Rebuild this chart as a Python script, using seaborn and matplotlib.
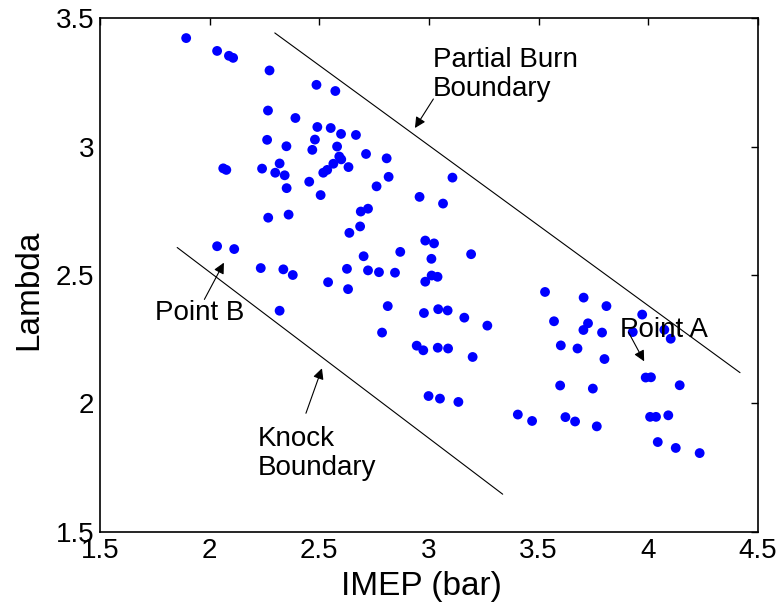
import numpy as np
import pandas as pd
import matplotlib
matplotlib.use("Agg")
import matplotlib.pyplot as plt
import seaborn as sns

# ---- data ----
imep = [1.893, 2.034, 2.088, 2.107, 2.273, 2.487, 2.266, 2.391, 2.491, 2.552,
        2.262, 2.480, 2.350, 2.468, 2.062, 2.076, 2.239, 2.319, 2.299, 2.342,
        2.454, 2.518, 2.536, 2.351, 2.573, 2.599, 2.667, 2.581, 2.591, 2.600,
        2.713, 2.807, 2.564, 2.633, 2.816, 2.761, 3.107, 2.506, 2.267, 2.360,
        2.034, 2.112, 2.233, 2.336, 2.379, 2.540, 2.319, 2.957, 3.064, 2.689,
        2.722, 2.686, 2.637, 2.983, 3.023, 2.869, 3.192, 2.702, 3.011, 2.626,
        2.722, 2.772, 2.845, 2.631, 3.012, 3.039, 2.983, 2.812, 2.977, 3.042,
        3.085, 3.161, 3.266, 2.786, 2.944, 2.974, 3.040, 3.087, 3.199, 2.998,
        3.050, 3.134, 3.529, 3.705, 3.809, 3.972, 3.570, 3.725, 3.704, 3.789,
        3.929, 4.073, 4.102, 3.601, 3.677, 3.800, 3.988, 4.012, 3.598, 3.747,
        4.143, 3.405, 3.470, 3.622, 3.666, 3.765, 4.008, 4.035, 4.091, 4.043,
        4.125, 4.234]
lam = [3.422, 3.372, 3.353, 3.345, 3.296, 3.240, 3.140, 3.111, 3.076, 3.072,
       3.026, 3.027, 3.001, 2.987, 2.915, 2.909, 2.914, 2.934, 2.898, 2.888,
       2.863, 2.898, 2.909, 2.838, 3.216, 3.049, 3.045, 3.000, 2.961, 2.950,
       2.971, 2.954, 2.933, 2.920, 2.882, 2.845, 2.879, 2.811, 2.723, 2.735,
       2.612, 2.601, 2.527, 2.522, 2.500, 2.472, 2.361, 2.804, 2.778, 2.747,
       2.758, 2.689, 2.664, 2.634, 2.623, 2.590, 2.581, 2.573, 2.563, 2.524,
       2.518, 2.511, 2.509, 2.445, 2.498, 2.493, 2.474, 2.379, 2.352, 2.367,
       2.362, 2.334, 2.303, 2.276, 2.225, 2.207, 2.217, 2.214, 2.181, 2.029,
       2.019, 2.006, 2.434, 2.412, 2.379, 2.346, 2.320, 2.312, 2.286, 2.276,
       2.278, 2.287, 2.252, 2.226, 2.214, 2.173, 2.101, 2.102, 2.070, 2.058,
       2.071, 1.957, 1.932, 1.947, 1.930, 1.911, 1.948, 1.948, 1.954, 1.850,
       1.827, 1.807]

partial_x = [2.297, 4.418]
partial_y = [3.442, 2.120]
knock_x = [1.852, 3.336]
knock_y = [2.607, 1.647]

x_ticks = [1.5, 2, 2.5, 3, 3.5, 4, 4.5]
x_tick_labels = ["1.5", "2", "2.5", "3", "3.5", "4", "4.5"]
y_ticks = [1.5, 2, 2.5, 3, 3.5]
y_tick_labels = ["1.5", "2", "2.5", "3", "3.5"]

sns.set_theme(style="white")
plt.rcParams["font.family"] = ["Liberation Sans", "DejaVu Sans"]

fig = plt.figure(figsize=(7.78, 6.05), dpi=100)
ax = fig.add_axes([0.1285, 0.1207, 0.8458, 0.8495])

df = pd.DataFrame({"IMEP": imep, "Lambda": lam})
sns.scatterplot(data=df, x="IMEP", y="Lambda", ax=ax, color="#0000ff",
                s=50, edgecolor="none", linewidth=0, legend=False)

ax.plot(partial_x, partial_y, color="black", lw=0.8)
ax.plot(knock_x, knock_y, color="black", lw=0.8)

arrow = dict(arrowstyle="-|>", color="black", lw=0.8, mutation_scale=16,
             shrinkA=0, shrinkB=0)
txt_kw = dict(fontsize=20, ha="left", va="baseline", color="black")

ax.annotate("", xy=(2.936, 3.072), xytext=(3.020, 3.185), arrowprops=arrow)
ax.text(3.018, 3.198, "Partial Burn\nBoundary", linespacing=1.15, **txt_kw)

ax.annotate("", xy=(2.512, 2.137), xytext=(2.439, 1.962), arrowprops=arrow)
ax.text(2.221, 1.722, "Knock\nBoundary", linespacing=1.15, **txt_kw)

ax.annotate("", xy=(2.065, 2.548), xytext=(1.976, 2.405), arrowprops=arrow)
ax.text(1.751, 2.324, "Point B", **txt_kw)

ax.annotate("", xy=(3.981, 2.164), xytext=(3.909, 2.278), arrowprops=arrow)
ax.text(3.871, 2.259, "Point A", **txt_kw)

ax.set_xlim(1.5, 4.5)
ax.set_ylim(1.5, 3.5)
ax.set_xticks(x_ticks)
ax.set_xticklabels(x_tick_labels)
ax.set_yticks(y_ticks)
ax.set_yticklabels(y_tick_labels)
ax.tick_params(direction="in", length=5, width=1, top=True, right=True,
               labelsize=20, pad=4, colors="black")
for sp in ax.spines.values():
    sp.set_visible(True)
    sp.set_color("black")
    sp.set_linewidth(1.2)
ax.set_xlabel("IMEP (bar)", fontsize=24, color="black")
ax.set_ylabel("Lambda", fontsize=24, color="black")
ax.xaxis.set_label_coords(0.489, -0.075)
ax.yaxis.set_label_coords(-0.085, 0.471)
ax.grid(False)

fig.savefig("out.png", dpi=100)
